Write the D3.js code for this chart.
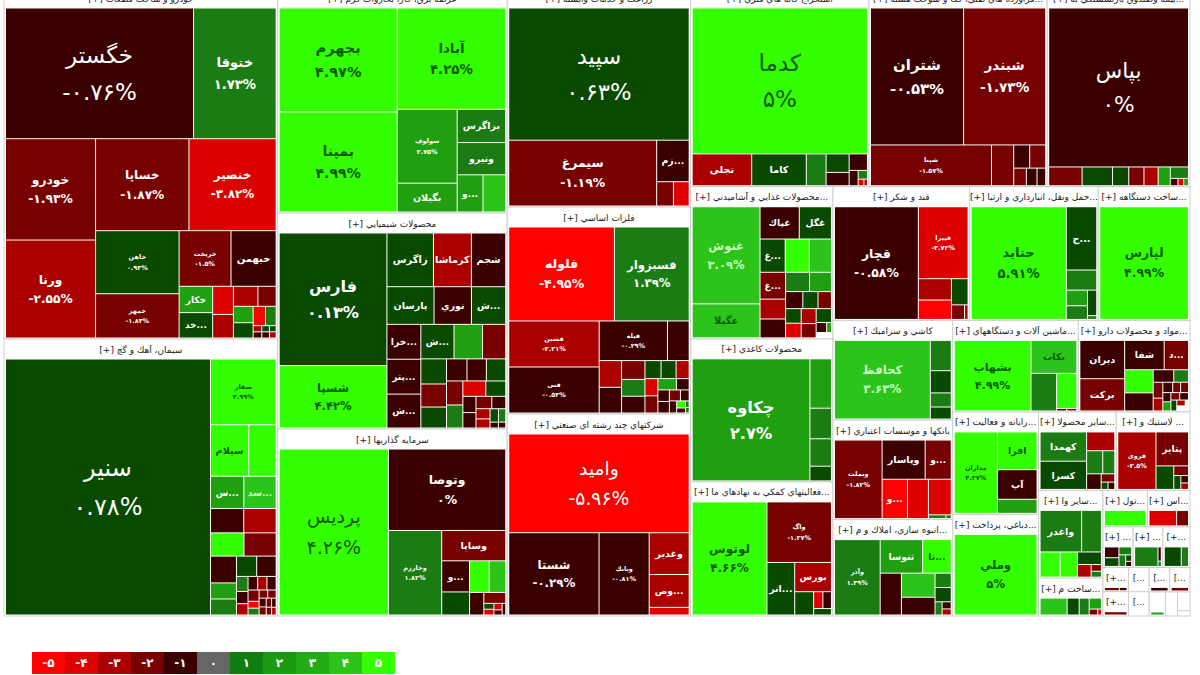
<!DOCTYPE html>
<html>
<head>
<meta charset="utf-8">
<script src="https://cdn.jsdelivr.net/npm/d3@7/dist/d3.min.js"></script>
<style>
body { margin: 0; background: #fff; }
svg { display: block; font-family: "DejaVu Sans", "Noto Sans", sans-serif; }
</style>
</head>
<body>
<svg id="map" width="1200" height="675"></svg>
<script>
'use strict';

// sector titles, biggest sector first
var sectorNames = [
    "خودرو و ساخت قطعات [+]", "سيمان، آهك و گچ [+]", "عرضه برق، گاز، بخاروآب گرم [+]",
    "محصولات شيميايي [+]", "سرمايه گذاريها [+]", "زراعت و خدمات وابسته [+]",
    "فلزات اساسي [+]", "شركتهاي چند رشته اي صنعتي [+]", "استخراج كانه هاي فلزي [+]",
    "...فراورده هاي نفتي، كك و سوخت هسته [+]", "...بيمه وصندوق بازنشستگي به [+]", "...محصولات غذايي و آشاميدني [+]",
    "محصولات كاغذي [+]", "...فعاليتهاي كمكي به نهادهاي ما [+]", "قند و شكر [+]",
    "...حمل ونقل، انبارداري و ارتبا [+]", "...ساخت دستگاهه [+]", "كاشي و سراميك [+]",
    "بانكها و موسسات اعتباري [+]", "...انبوه سازي، املاك و م [+]", "...ماشين آلات و دستگاههاي [+]",
    "...مواد و محصولات دارو [+]", "...رايانه و فعاليت [+]", "...دباغي، پرداخت [+]",
    "...ساير محصولا [+]", "... لاستيك و [+]", "...ساير وا [+]", "...ساخت م [+]",
    "...تول [+]", "...اس [+]", "... [+]", "... [+]", "...+]",
    "\u202A[+...\u202C", "\u202A[+...\u202C", "\u202A[...\u202C", "\u202A[...\u202C", "\u202A[...\u202C", "\u202A[...\u202C", "", "", "", ""
];

var sectorSizes = [
    95823, 75621, 51525, 49464, 42823, 40077, 37881, 36966, 35345, 35335, 28314,
    21584, 20306, 19028, 18221, 17157, 12236, 11905, 11895, 11520, 11466, 10192,
    8772, 8700, 6084, 5772, 5632, 2432, 1620, 1548, 1220, 1200, 1100,
    620, 620, 500, 500, 500, 500, 390, 288, 234, 65
];

var stockNames = [
    ["خگستر","ختوقا","خودرو","ورنا","خساپا","خنصير","خاهن","خمهر","خريخت","خبهمن","خكار","خد..."],
    ["سنير","سفار","سيلام","","س...","سد..."],
    ["بجهرم","بمپنا","آبادا","سولوف","بگيلان","بزاگرس","ونيرو","و..."],
    ["فارس","شسپا","زاگرس","كرماشا","شجم","پارسان","نوري","ش...","خرا...","پتر...","ش...","ش..."],
    ["پرديس","وتوصا","وخارزم","وساپا","و..."],
    ["سپيد","سيمرغ","زم..."],
    ["فلوله","فسبزوار","فسبن","فنى","فيله"],
    ["واميد","شستا","وبانك","وغدير","وص..."],
    ["كدما","تجلي","كاما"],
    ["شتران","شبندر","شپنا"],
    ["بپاس"],
    ["غنوش","غگيلا","غپاك","غگل","غ...","","","غ..."],
    ["چكاوه"],
    ["لوتوس","واگ","انر...","بورس"],
    ["قچار","قپيرا"],
    ["حتايد","ح..."],
    ["لپارس"],
    ["كحافظ"],
    ["وبملت","وپاسار","و...","و..."],
    ["وآذر","ثنوسا","ثا..."],
    ["بشهاب","بكاب"],
    ["ديران","بركت","شفا","د..."],
    ["مداران","افرا","آپ"],
    ["وملي"],
    ["كهمدا","كسرا"],
    ["فروي","پتاير"],
    ["واغدر"],
    [], [], [], [], [], [], [], [], [], [], [], [], [], [], [], []
];

var stockSizes = [
    [24440,10660,9000,8700,8460,7900,5160,3600,2800,2430,830,800,540,450,450,330,290,270,210,180,40,40,35,35,30,30],
    [52430,4220,1900,1350,1020,990,760,740,730,700,650,380,380,375,360,150,120,110,110,105,105,105,60,60,55,54,48,44,36,30,30,25],
    [12050,11600,10800,4300,1650,1536,1490,900,790],
    [13700,6400,2340,1900,1716,1650,1300,1190,1088,1088,1056,1050,900,726,580,530,480,400,378,378,345,330,308,266,180,170,165,143,117,104,90,77,35,30],
    [17870,9360,4370,1856,810,594,570,480,286,210,45,44,40,30,30],
    [23580,9555,1280,368,345],
    [9660,6808,4005,4005,2584,798,546,525,396,352,350,255,238,204,192,192,180,120,110,110,100,77,70,48,32,15,12],
    [17640,7298,4018,1600,1248,273],
    [25490,1829,1674,589,391,276,272,117,65,27,15],
    [12420,10935,4760,840,330,330,192,160,128],
    [21823,576,522,270,252,234,198,180,42,30,24],
    [6336,2178,1178,961,768,736,672,624,456,432,414,378,256,224,196,196,196,192,182,182,84,35,12,12,12,12],
    [13690,966,588,525,273],
    [8541,3904,1431,1044,414,136,126,98],
    [9492,3550,672,608,405,169,39],
    [10622,1860,570,300,260,208,24],
    [9944],
    [7315,580,420,260,220],
    [3588,1591,950,925,760,748,51,12],
    [3212,1302,868,800,726,528,195,195,72,48,40],
    [5175,1410,884,646,16,16],
    [1591,1333,1064,644,594,459,220,154,126,99,81,63,63,56,56,49,49,48,35,30,24],
    [3440,1440,1120,520],
    [6636],
    [1269,1222,476,330,242,195,91,36,36],
    [2072,1024,374,117,78,42,36],
    [1708,798,480,408,280,154,56,48],
    [442,187,153,120,40,15],
    [588],
    [378,154],
    [136,108,84,63,28,21],
    [408,34,10],
    [255,102],
    [75,35], [95], [19], [19], [96], [57],
    [84], [288], [234], [65]
];

var stockChanges = [
    [-0.76,1.73,-1.93,-2.55,-1.87,-3.82,0.93,-1.83,-1.5,-0.5,2.5,0.5,-3.5,-2.5,-2.5,-1.5,2.5,0.5,-4.5,1.5,-2.5,-0.5,0.5,-0.5,0.5,-2.5],
    [0.78,4.99,4.5,4.5,2.5,3.5,-0.5,-2.5,4.5,-1.5,-0.5,2.5,1.5,0.5,-0.5,1.5,-0.5,-2.5,-0.5,-2.5,-0.5,-1.5,-4.5,1.5,-1.5,-1.5,-0.5,-1.5,-1.5,-0.5,-1.5,-2.5],
    [4.97,4.99,4.25,2.75,2.5,1.5,1.5,2.5,3.5],
    [0.13,4.42,0.5,-2.5,-0.5,0.5,-0.5,0.5,-0.5,-0.5,-0.5,0.5,2.5,-1.5,0.5,-1.5,0.5,-0.5,-0.5,0.5,-1.5,1.5,-3.5,0.5,-0.5,-0.5,-1.5,-0.5,-2.5,-2.5,0.5,1.5,-0.5,-0.5],
    [4.26,0,1.82,-1.5,-0.5,0.5,4.5,3.5,-0.5,-1.5,0.5,-3.5,-3.5,-0.5,-0.5],
    [0.63,-1.19,-0.5,-1.5,-3.5],
    [-4.95,1.39,-2.21,-0.53,-0.29,-0.5,-2.5,-0.5,-1.5,1.5,-0.5,0.5,0.5,-2.5,-3.5,-1.5,2.5,-0.5,-0.5,-0.5,-1.5,-0.5,-0.5,4.5,-0.5,1.5,1.5],
    [-5.96,-0.29,-0.81,-2.5,-2.5,-3.5],
    [5,-2.5,0.5,1.5,0.5,-0.5,-0.5,-0.5,1.5,-3.5,-2.5],
    [-0.53,-1.73,-1.57,-1.5,-0.5,-1.5,-1.5,-0.5,-0.5],
    [0,-1.5,0.5,0.5,-1.5,-2.5,2.5,1.5,-0.5,-3.5,2.5],
    [3.09,3.9,-0.5,0.5,0.5,4.5,3.9,-1.5,-2.5,-0.5,1.5,2.5,-0.5,0.5,-1.5,0.5,-3.5,-2.5,-1.5,0.5,-0.5,2.5,null,null,null,null],
    [2.7,2.5,1.5,1.5,0.5],
    [4.66,-1.27,0.5,-2.5,0.5,-3.5,-0.5,0.5],
    [-0.58,-3.73,-2.5,-4.5,0.5,-1.5,-2.5],
    [5.91,0.5,1.5,2.5,1.5,0.5,1.5],
    [4.99],
    [3.63,1.5,0.5,1.5,0.5],
    [-1.82,-0.5,-1.5,-4.5,-3.5,-3.5,1.5,1.5],
    [1.39,2.5,4.5,-0.5,3.5,-0.5,1.5,0.5,1.5,-0.5,-2.5],
    [4.99,3.9,1.5,4.5,-0.5,-1.5],
    [-0.5,-1.5,-0.5,-1.5,4.5,-0.5,-0.5,1.5,-1.5,-2.5,-0.5,-1.5,-1.5,-0.5,2.5,-1.5,-0.5,0.5,-2.5,null,null],
    [4.27,4.5,-0.5,2.5],
    [5],
    [1.5,0.5,-2.5,1.5,1.5,-0.5,-1.5,0.5,-0.5],
    [-2.5,-1.5,0.5,-1.5,0.5,-0.5,-2.5],
    [1.5,1.5,4.5,4.5,0.5,-2.5,-1.5,1.5],
    [3.5,0.5,1.5,2.5,-1.5,-3.5],
    [4.5],
    [-3.5,-1.5],
    [-0.5,0.5,1.5,1.5,0.5,-0.5],
    [1.5,-0.5,1.5],
    [0.5,1.5],
    [-1.5,-0.5], [-1.5], [null], [null], [-0.5], [-1.5],
    [2.5], [null], [null], [null]
];

// names printed very small in the source map
var smallLabels = ["خاهن","خمهر","خريخت","سفار","سولوف","وخارزم","فسبن","فنى","فيله","شپنا","واگ","قپيرا","وبملت","وآذر","مداران","فروي","وبانك"];

var legendTicks = [-5,-4,-3,-2,-1,0,1,2,3,4,5];
var legendColors = ["#ff0000","#dd0000","#aa0000","#770000","#3a0000","#666666","#0f7d0f","#1a9a10","#22ab16","#2cc41a","#33ff00"];

var color = d3.scaleThreshold()
    .domain([-4,-3,-2,-1,0.001,1,2,3,4])
    .range(["#ff0000","#dd0000","#aa0000","#770000","#3a0000","#0a4a00","#1a7c12","#20a010","#2cc41a","#33ff00"]);

var fontSize = d3.scaleLinear()
    .domain([30,100,156,230])
    .range([9,12.5,23,24])
    .clamp(true);

function faDigits(v) {
    return String(v).replace(/\d/g, function(c) {
        return "۰۱۲۳۴۵۶۷۸۹"[+c];
    });
}

function textColor(v) {
    if (v >= 3.7) return "#0b5a00";
    if (v >= 3) return "#c8ffc0";
    return "#fff";
}

// sizes were read inside the white gaps, so add the gap back
function withGap(size) {
    return Math.pow(Math.sqrt(size) + 1, 2);
}

var tableData = {
    children: sectorNames.map(function(name, i) {
        var total = d3.sum(stockSizes[i], withGap);
        return {
            name: name,
            children: stockSizes[i].map(function(size, j) {
                return {
                    name: stockNames[i][j] || "",
                    change: stockChanges[i][j],
                    value: sectorSizes[i] * withGap(size) / total
                };
            })
        };
    })
};

var root = d3.hierarchy(tableData)
    .sum(function(d) { return d.value || 0; })
    .sort(function(a, b) { return b.value - a.value; });

d3.treemap()
    .tile(d3.treemapSquarify.ratio(1))
    .size([1186, 628])
    .paddingTop(function(d) { return d.depth === 1 ? 20 : 0; })
    .paddingLeft(function(d) { return d.depth === 1 ? 1.5 : 0; })
    .paddingRight(function(d) { return d.depth === 1 ? 1.5 : 0; })
    .paddingBottom(function(d) { return d.depth === 1 ? 1 : 0; })(root);

var svg = d3.select("#map");
var chart = svg.append("g").attr("transform", "translate(4,-12)");

// [ sectors ]
var sector = chart.selectAll("g.sector")
    .data(root.children)
    .join("g")
    .attr("class", "sector");

sector.append("rect")
    .attr("x", function(d) { return d.x0; })
    .attr("y", function(d) { return d.y0; })
    .attr("width", function(d) { return d.x1 - d.x0; })
    .attr("height", function(d) { return d.y1 - d.y0; })
    .attr("fill", "#fff")
    .attr("stroke", "#cfcfcf");

sector.append("text")
    .attr("x", function(d) { return (d.x0 + d.x1) / 2; })
    .attr("y", function(d) { return d.y0 + 13.5; })
    .attr("text-anchor", "middle")
    .attr("direction", "rtl")
    .attr("font-size", 9)
    .attr("fill", "#222")
    .text(function(d) { return d.data.name; });

// [ stocks ]
var leaf = chart.selectAll("g.leaf")
    .data(root.leaves())
    .join("g")
    .attr("class", "leaf");

leaf.append("rect")
    .attr("x", function(d) { return d.x0 + 0.5; })
    .attr("y", function(d) { return d.y0 + 0.5; })
    .attr("width", function(d) { return Math.max(0, d.x1 - d.x0 - 1); })
    .attr("height", function(d) { return Math.max(0, d.y1 - d.y0 - 1); })
    .attr("fill", function(d) { return d.data.change === null ? "#fff" : color(d.data.change); });

leaf.filter(function(d) { return d.data.name !== ""; }).each(function(d) {
    var w = d.x1 - d.x0,
        h = d.y1 - d.y0,
        cx = (d.x0 + d.x1) / 2,
        cy = (d.y0 + d.y1) / 2,
        small = smallLabels.indexOf(d.data.name) > -1,
        fs = small ? 6.5 : fontSize(Math.sqrt(w * h)),
        weight = fs < 18 ? "bold" : "normal",
        showChange = small || (w * h >= 2700 && d.data.name.indexOf("...") < 0),
        g = d3.select(this);

    g.append("text")
        .attr("x", cx)
        .attr("y", showChange ? cy - fs * 0.8 : cy)
        .attr("dy", "0.35em")
        .attr("text-anchor", "middle")
        .attr("font-size", fs)
        .attr("font-weight", weight)
        .attr("fill", textColor(d.data.change))
        .text(d.data.name);

    if (showChange) {
        g.append("text")
            .attr("x", cx)
            .attr("y", cy + fs * 0.8)
            .attr("dy", "0.35em")
            .attr("text-anchor", "middle")
            .attr("font-size", fs)
            .attr("font-weight", weight)
            .attr("fill", textColor(d.data.change))
            .text(faDigits(d.data.change) + "%");
    }
});

// [ legend ]
var legendX = d3.scaleBand()
    .domain(legendTicks)
    .range([32, 395]);

var legend = svg.append("g").selectAll("g")
    .data(legendTicks)
    .join("g");

legend.append("rect")
    .attr("x", function(d) { return legendX(d); })
    .attr("y", 652)
    .attr("width", legendX.bandwidth())
    .attr("height", 22)
    .attr("fill", function(d, i) { return legendColors[i]; });

legend.append("text")
    .attr("x", function(d) { return legendX(d) + legendX.bandwidth() / 2; })
    .attr("y", 663)
    .attr("dy", "0.35em")
    .attr("text-anchor", "middle")
    .attr("font-size", 12)
    .attr("font-weight", "bold")
    .attr("fill", "#fff")
    .text(function(d) { return faDigits(d); });
</script>
</body>
</html>
